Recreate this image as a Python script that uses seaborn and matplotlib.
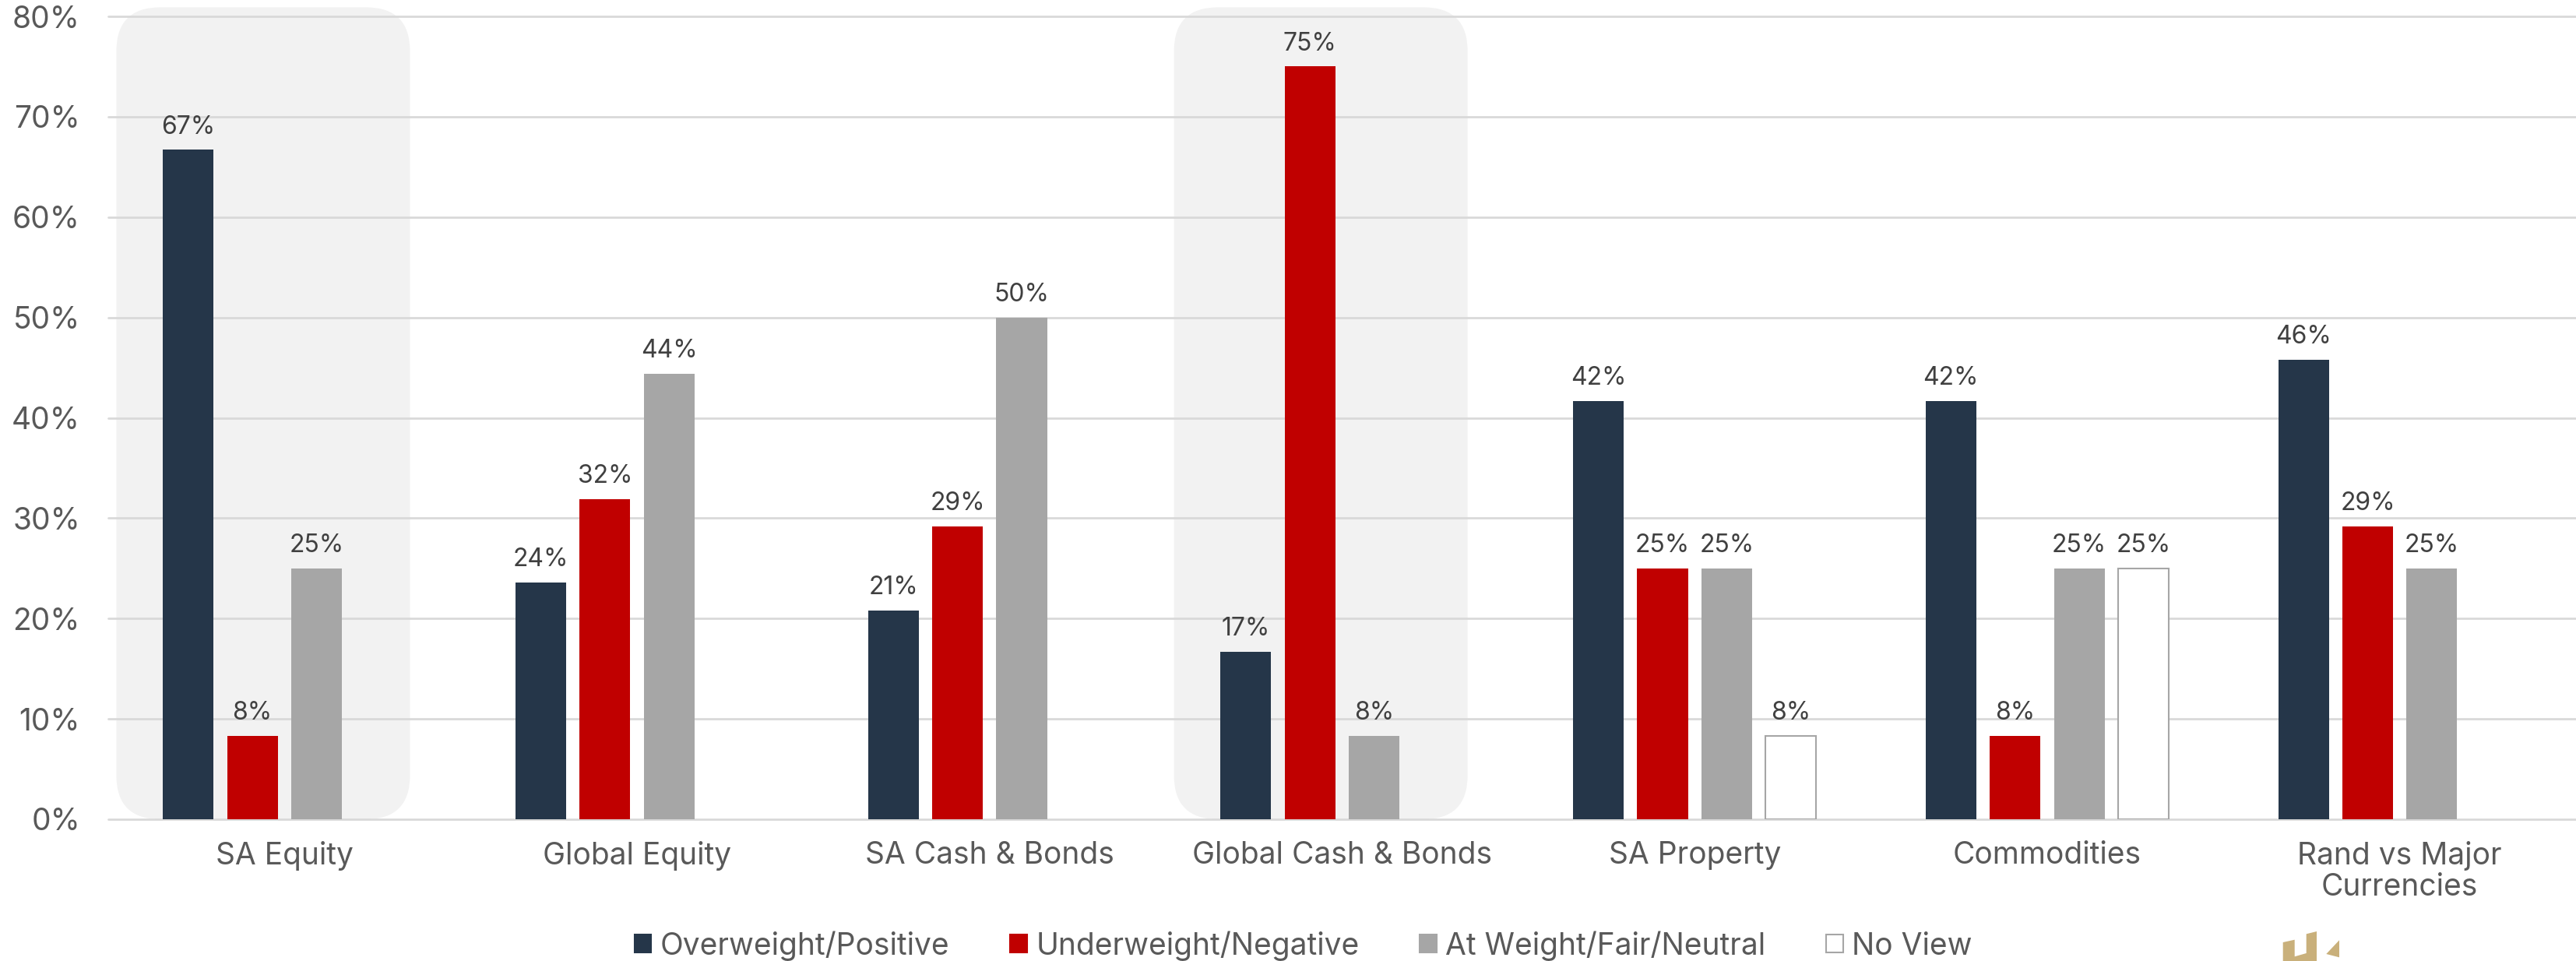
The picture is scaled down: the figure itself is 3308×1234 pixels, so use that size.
import numpy as np
import pandas as pd
import matplotlib.pyplot as plt
import seaborn as sns
from matplotlib.patches import FancyBboxPatch, Patch, Polygon

# chart data
categories = ["SA Equity", "Global Equity", "SA Cash & Bonds",
              "Global Cash & Bonds", "SA Property", "Commodities",
              "Rand vs Major\nCurrencies"]
views = ["Overweight/Positive", "Underweight/Negative",
         "At Weight/Fair/Neutral", "No View"]
overweight = [66.7, 23.6, 20.8, 16.7, 41.7, 41.7, 45.8]
underweight = [8.3, 31.9, 29.2, 75.0, 25.0, 8.3, 29.2]
at_weight = [25.0, 44.4, 50.0, 8.3, 25.0, 25.0, 25.0]
no_view = [np.nan, np.nan, np.nan, np.nan, 8.3, 25.0, np.nan]
highlighted = ["SA Equity", "Global Cash & Bonds"]
y_ticks = [0, 10, 20, 30, 40, 50, 60, 70, 80]

colors = ["#253649", "#C00000", "#A6A6A6", "#FFFFFF"]
text_grey = "#595959"


def build_frame():
    # long format table for seaborn, missing combos are dropped
    rows = []
    for series, name in zip([overweight, underweight, at_weight, no_view], views):
        for cat, val in zip(categories, series):
            if not np.isnan(val):
                rows.append({"category": cat, "view": name, "value": val})
    return pd.DataFrame(rows)


def main():
    sns.set_style("white")
    plt.rcParams['font.family'] = ['Inter', 'DejaVu Sans']

    df = build_frame()

    fig = plt.figure(figsize=(33.08, 12.34), dpi=100)
    ax = fig.add_axes([139 / 3308, 1 - 1052 / 1234, 1 - 139 / 3308, 1031 / 1234])

    sns.barplot(data=df, x="category", y="value", hue="view",
                order=categories, hue_order=views, palette=colors,
                saturation=1, width=0.728, gap=0.21, errorbar=None,
                linewidth=0, legend=False, ax=ax, zorder=3)

    # the "No View" bars are white with a thin grey outline
    for bar in ax.containers[3]:
        bar.set_edgecolor("#A6A6A6")
        bar.set_linewidth(1.5)

    for cont in ax.containers:
        ax.bar_label(cont, fmt="{:.0f}%", padding=10, fontsize=23,
                     color="#404040")

    ax.set_xlim(-0.5, 6.5)
    ax.set_ylim(0, 80)

    # rounded grey boxes behind two of the groups
    aspect = (80 / 1031) / (7 / 3169)
    for cat in highlighted:
        i = categories.index(cat)
        box = FancyBboxPatch((i - 0.477, 0), 0.833, 80.9,
                             boxstyle="round,pad=0,rounding_size=0.125",
                             mutation_aspect=aspect, facecolor="#F2F2F2",
                             edgecolor="none", zorder=0, clip_on=False)
        ax.add_patch(box)

    ax.set_axisbelow(True)
    ax.yaxis.grid(True, color="#D9D9D9", linewidth=2)
    for line in ax.get_ygridlines():
        line.set_clip_on(False)
    ax.xaxis.grid(False)

    ax.set_yticks(y_ticks)
    ax.set_yticklabels([f"{t}%" for t in y_ticks])
    ax.tick_params(axis="y", length=0, pad=26, labelsize=28,
                   labelcolor=text_grey)
    ax.tick_params(axis="x", length=0, pad=20, labelsize=28,
                   labelcolor=text_grey)
    for lab in ax.get_xticklabels():
        lab.set_linespacing(1.1)
    ax.set_xlabel("")
    ax.set_ylabel("")
    sns.despine(ax=ax, left=True, bottom=True)

    handles = [Patch(facecolor=c, edgecolor=("#A6A6A6" if c == "#FFFFFF" else c),
                     linewidth=1.5) for c in colors]
    fig.legend(handles, views, loc="center", bbox_to_anchor=(0.506, 0.016),
               ncol=4, frameon=False, fontsize=28, labelcolor=text_grey,
               handlelength=0.55, handleheight=0.55, handletextpad=0.3,
               columnspacing=2.0)

    # small gold logo fragment in the bottom right corner
    logo_a = [(2931.7, 1210), (2946.7, 1206.7), (2946.7, 1228.3), (2961.7, 1224),
              (2961.7, 1199.3), (2975, 1196), (2975, 1234), (2931.7, 1234)]
    logo_b = [(2987.3, 1225), (3004, 1207.3), (3004, 1229.3)]
    for pts in [logo_a, logo_b]:
        poly = Polygon([(x / 3308, 1 - y / 1234) for x, y in pts],
                       closed=True, transform=fig.transFigure,
                       facecolor="#C9B07B", edgecolor="none")
        fig.patches.append(poly)

    fig.savefig("out.png", dpi=100)


if __name__ == "__main__":
    main()
